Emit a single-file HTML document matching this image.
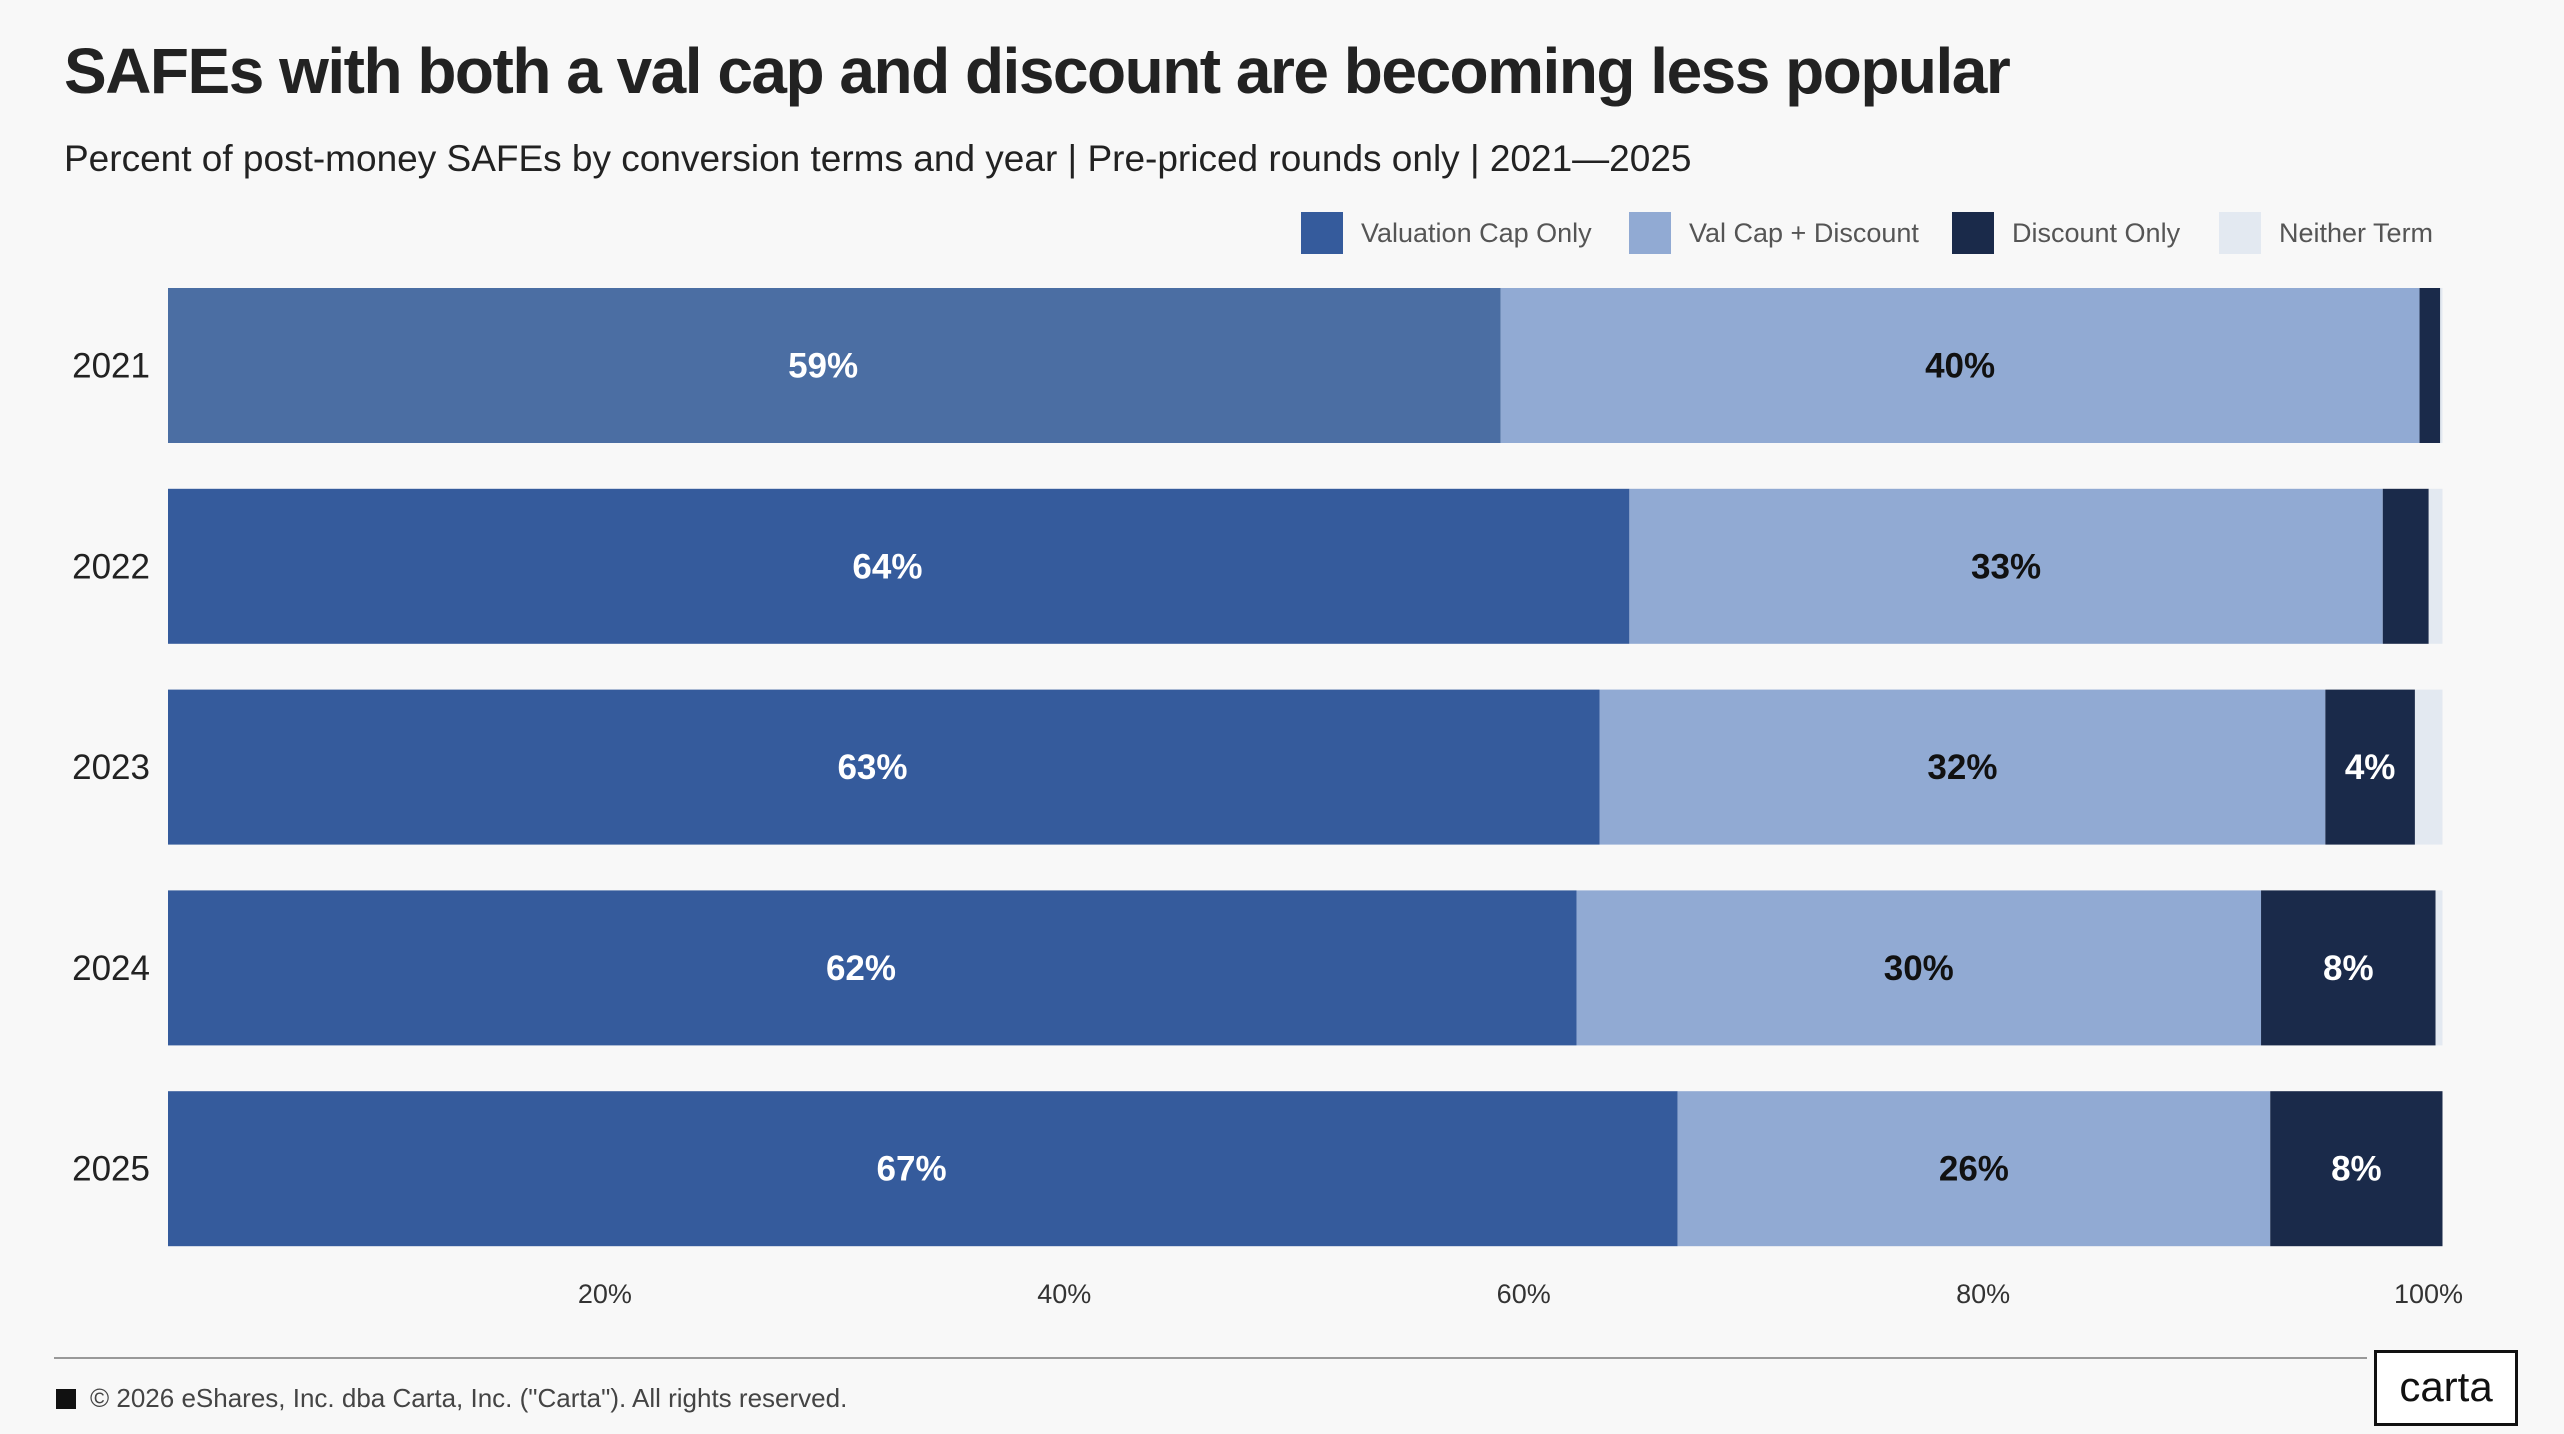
<!DOCTYPE html>
<html><head><meta charset="utf-8"><style>
body{margin:0;width:2564px;height:1434px;background:#f8f8f8;font-family:"Liberation Sans",sans-serif;overflow:hidden;position:relative}
#title{position:absolute;left:64px;top:34px;font-size:64px;font-weight:bold;color:#222;letter-spacing:-1.5px}
#sub{position:absolute;left:64px;top:138px;font-size:37px;color:#222}
.leg{position:absolute;top:212px;font-size:27px;color:#555;display:flex;align-items:center}
.leg span{display:inline-block;width:42px;height:42px;margin-right:18px}
#foot{position:absolute;left:90px;top:1383px;font-size:26px;color:#444}
#fsq{position:absolute;left:56px;top:1389px;width:20px;height:20px;background:#111}
#fline{position:absolute;left:54px;top:1357px;width:2313px;height:2px;background:#999}
#carta{position:absolute;left:2374px;top:1350px;width:138px;height:70px;border:3px solid #111;font-size:42px;text-align:center;line-height:68px;color:#111;background:#fff}
</style></head><body>
<div id="title">SAFEs with both a val cap and discount are becoming less popular</div>
<div id="sub">Percent of post-money SAFEs by conversion terms and year | Pre-priced rounds only | 2021—2025</div>
<div class="leg" style="left:1301px"><span style="background:#355b9c"></span>Valuation Cap Only</div>
<div class="leg" style="left:1629px"><span style="background:#91aad3"></span>Val Cap + Discount</div>
<div class="leg" style="left:1952px"><span style="background:#1a2a4a"></span>Discount Only</div>
<div class="leg" style="left:2219px"><span style="background:#e3e9f1"></span>Neither Term</div>
<svg id="chart" width="2564" height="1434" style="position:absolute;left:0;top:0"></svg>
<div id="fline"></div>
<div id="fsq"></div>
<div id="foot">© 2026 eShares, Inc. dba Carta, Inc. ("Carta"). All rights reserved.</div>
<div id="carta">carta</div>
<script>
const years=["2021","2022","2023","2024","2025"];
const valCap=[59,64.6,63.3,62.3,66.7];
const capDisc=[40,32.8,31.6,29.8,25.8];
const discOnly=[0.9,2,3.9,7.6,7.5];
const neither=[0.1,0.6,1.2,0.3,0];
const labVal=["59%","64%","63%","62%","67%"];
const labCap=["40%","33%","32%","30%","26%"];
const labDisc=["","","4%","8%","8%"];
const ticks=[20,40,60,80,100];
const NS="http://www.w3.org/2000/svg";
const svg=document.getElementById('chart');
const x=v=>145.5+v*22.97;
const y=i=>288+i*200.8;
const bh=155, clipL=168;
function mk(t,a){const e=document.createElementNS(NS,t);for(const k in a)e.setAttribute(k,a[k]);svg.appendChild(e);return e;}
const series=[[valCap,"#355b9c",labVal,"#fff"],[capDisc,"#91aad3",labCap,"#111"],[discOnly,"#1a2a4a",labDisc,"#fff"],[neither,"#e3e9f1",null,""]];
years.forEach((yr,i)=>{
  const t=mk('text',{x:150,y:y(i)+bh/2+12,'text-anchor':'end','font-size':35,fill:'#222'});
  t.textContent=yr;
  
  
  let cum=0;
  series.forEach((s,si)=>{
    const v=s[0][i];
    const ux0=x(cum);
    const x0=Math.max(ux0,clipL), x1=x(cum+v);
    cum+=v;
    if(x1<=x0)return;
    const r=mk('rect',{x:x0,y:y(i),width:x1-x0,height:bh,fill:(si===0&&i===0)?'#4b6ea3':s[1]});
    
    
    if(s[2]&&s[2][i]){
      const l=mk('text',{x:(ux0+x1)/2,y:y(i)+bh/2+12,'text-anchor':'middle','font-size':35,'font-weight':'bold',fill:s[3]});
      l.textContent=s[2][i];
      
      
    }
  });
});
ticks.forEach(tv=>{
  const t=mk('text',{x:x(tv)-(tv===100?14:0),y:1303,'text-anchor':'middle','font-size':27,fill:'#333'});
  t.textContent=tv+'%';
  
  
});
</script>
</body></html>
